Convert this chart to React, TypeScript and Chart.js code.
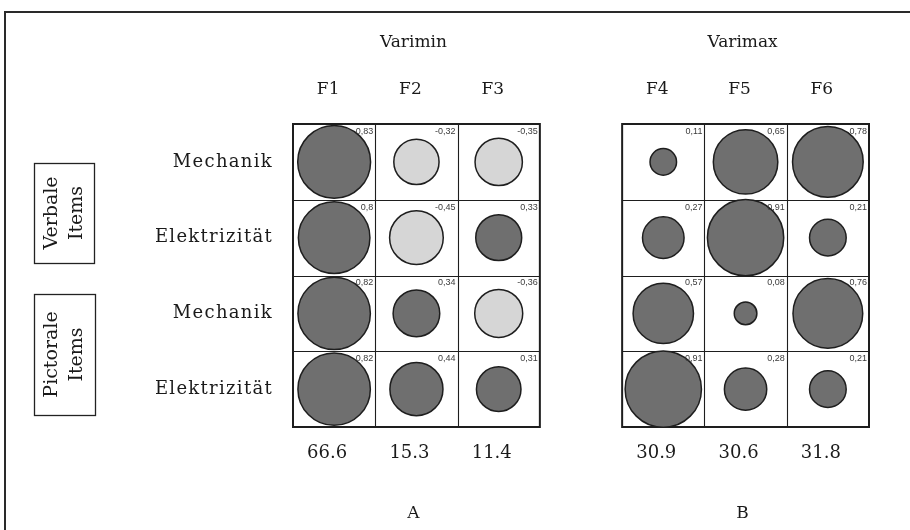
import { useEffect, useRef } from 'react';
import { Chart, registerables } from 'chart.js';

Chart.register(...registerables);

// Item rows (top to bottom) and their grouping
const rowLabels = ['Mechanik', 'Elektrizität', 'Mechanik', 'Elektrizität'];
const itemGroups = [
  ['Verbale', 'Items'],
  ['Pictorale', 'Items'],
];

// Rotation methods, factor names and panel letters
const rotationTitles = ['Varimin', 'Varimax'];
const panelLetters = ['A', 'B'];
const factorNames = ['F1', 'F2', 'F3', 'F4', 'F5', 'F6'];

// Factor loadings per factor, one value per item row
const loadingsF1 = [0.83, 0.8, 0.82, 0.82];
const loadingsF2 = [-0.32, -0.45, 0.34, 0.44];
const loadingsF3 = [-0.35, 0.33, -0.36, 0.31];
const loadingsF4 = [0.11, 0.27, 0.57, 0.91];
const loadingsF5 = [0.65, 0.91, 0.08, 0.28];
const loadingsF6 = [0.78, 0.21, 0.76, 0.21];

// Explained variance (%) per factor
const explainedVariance = ['66.6', '15.3', '11.4', '30.9', '30.6', '31.8'];

const allLoadings = [loadingsF1, loadingsF2, loadingsF3, loadingsF4, loadingsF5, loadingsF6];

// the second rotation block is offset by one empty column
const columnOf = (factorIndex: number) => factorIndex + (factorIndex >= 3 ? 1 : 0);

// bubble radius (px) for a loading of magnitude 1; area grows with |loading|
const FULL_RADIUS = 40;

const SERIF = '"DejaVu Serif", serif';
const POS_FILL = '#6f6f6f';
const NEG_FILL = '#d6d6d6';
const LINE = '#1e1e1e';

const fmtLoading = (v: number) => String(v).replace('.', ',');

const decorPlugin = {
  id: 'loadingTable',
  beforeDatasetsDraw(chart: any) {
    const { ctx } = chart;
    const xs = chart.scales.x;
    const ys = chart.scales.y;
    const X = (v: number) => xs.getPixelForValue(v);
    const Y = (v: number) => ys.getPixelForValue(v);

    ctx.save();
    // outer frame
    ctx.strokeStyle = '#2a2a2a';
    ctx.lineWidth = 2;
    ctx.beginPath();
    ctx.moveTo(5, 600);
    ctx.lineTo(5, 12);
    ctx.lineTo(1000, 12);
    ctx.stroke();

    // cell grids for the two rotation blocks
    const top = Y(-0.5);
    const bottom = Y(3.5);
    [0, 4].forEach((start) => {
      const left = X(start - 0.5);
      const right = X(start + 2.5);
      ctx.strokeStyle = LINE;
      ctx.lineWidth = 1.1;
      ctx.beginPath();
      for (let c = 1; c < 3; c++) {
        const x = Math.round(X(start - 0.5 + c)) + 0.5;
        ctx.moveTo(x, top);
        ctx.lineTo(x, bottom);
      }
      for (let r = 1; r < 4; r++) {
        const y = Math.round(Y(-0.5 + r)) + 0.5;
        ctx.moveTo(left, y);
        ctx.lineTo(right, y);
      }
      ctx.stroke();
      ctx.lineWidth = 2;
      ctx.strokeRect(left, top, right - left, bottom - top);
    });

    ctx.fillStyle = '#1a1a1a';
    ctx.textAlign = 'center';
    ctx.textBaseline = 'alphabetic';

    // rotation titles and panel letters
    ctx.font = `17px ${SERIF}`;
    rotationTitles.forEach((t, i) => {
      const cx = X(i * 4 + 1);
      ctx.fillText(t, cx - 3, 47);
      ctx.fillText(panelLetters[i], cx - 3, 518);
    });

    // factor names and explained variance
    factorNames.forEach((f, i) => {
      const cx = X(columnOf(i));
      ctx.font = `17px ${SERIF}`;
      ctx.fillText(f, cx - 6, 94);
      ctx.font = `18px ${SERIF}`;
      ctx.fillText(explainedVariance[i], cx - 7, 458);
    });

    // item row labels
    ctx.textAlign = 'right';
    ctx.textBaseline = 'middle';
    ctx.font = `18px ${SERIF}`;
    (ctx as any).letterSpacing = '1.3px';
    rowLabels.forEach((lbl, r) => {
      ctx.fillText(lbl, 273, Y(r));
    });
    (ctx as any).letterSpacing = '0px';

    // item group boxes with vertical captions
    const boxes = [
      { x: 34, y: 163, w: 60, h: 100 },
      { x: 34, y: 294, w: 61, h: 121 },
    ];
    ctx.strokeStyle = '#222';
    ctx.lineWidth = 1.3;
    ctx.font = `19px ${SERIF}`;
    ctx.textAlign = 'center';
    ctx.textBaseline = 'middle';
    itemGroups.forEach((lines, i) => {
      const b = boxes[i];
      ctx.strokeRect(b.x + 0.5, b.y + 0.5, b.w, b.h);
      ctx.save();
      ctx.translate(b.x + b.w / 2, b.y + b.h / 2);
      ctx.rotate(-Math.PI / 2);
      ctx.fillText(lines[0], 0, -12);
      ctx.fillText(lines[1], 0, 13);
      ctx.restore();
    });
    ctx.restore();
  },
  afterDatasetsDraw(chart: any) {
    const { ctx } = chart;
    const xs = chart.scales.x;
    const ys = chart.scales.y;
    ctx.save();
    ctx.fillStyle = '#3a3a3a';
    ctx.font = '9px "Liberation Sans", Arial, sans-serif';
    ctx.textAlign = 'right';
    ctx.textBaseline = 'top';
    allLoadings.forEach((col, f) => {
      const right = xs.getPixelForValue(columnOf(f) + 0.5) - 2;
      col.forEach((v, r) => {
        const top = ys.getPixelForValue(r - 0.5) + 3;
        ctx.fillText(fmtLoading(v), right, top);
      });
    });
    ctx.restore();
  },
};

export default function App() {
  const canvasRef = useRef<HTMLCanvasElement | null>(null);

  useEffect(() => {
    const canvas = canvasRef.current;
    if (!canvas) return;

    const points = allLoadings.flatMap((col, f) =>
      col.map((v, r) => ({
        x: columnOf(f),
        y: r,
        r: FULL_RADIUS * Math.sqrt(Math.abs(v)),
        v,
      }))
    );

    const chart = new Chart(canvas, {
      type: 'bubble',
      data: {
        datasets: [
          {
            data: points as any,
            backgroundColor: points.map((p) => (p.v < 0 ? NEG_FILL : POS_FILL)),
            borderColor: LINE,
            borderWidth: 1.5,
            clip: false,
          } as any,
        ],
      },
      options: {
        responsive: false,
        animation: false,
        devicePixelRatio: 1,
        layout: { padding: { left: 293, right: 41, top: 124, bottom: 103 } },
        plugins: {
          legend: { display: false },
          tooltip: { enabled: false },
        },
        scales: {
          x: { type: 'linear', min: -0.5, max: 6.5, display: false },
          y: { type: 'linear', min: -0.5, max: 3.5, reverse: true, display: false },
        },
      },
      plugins: [decorPlugin],
    });

    return () => chart.destroy();
  }, []);

  return (
    <div style={{ position: 'fixed', left: 0, top: 0, width: 910, height: 530, background: '#fff' }}>
      <canvas ref={canvasRef} width={910} height={530} />
    </div>
  );
}
